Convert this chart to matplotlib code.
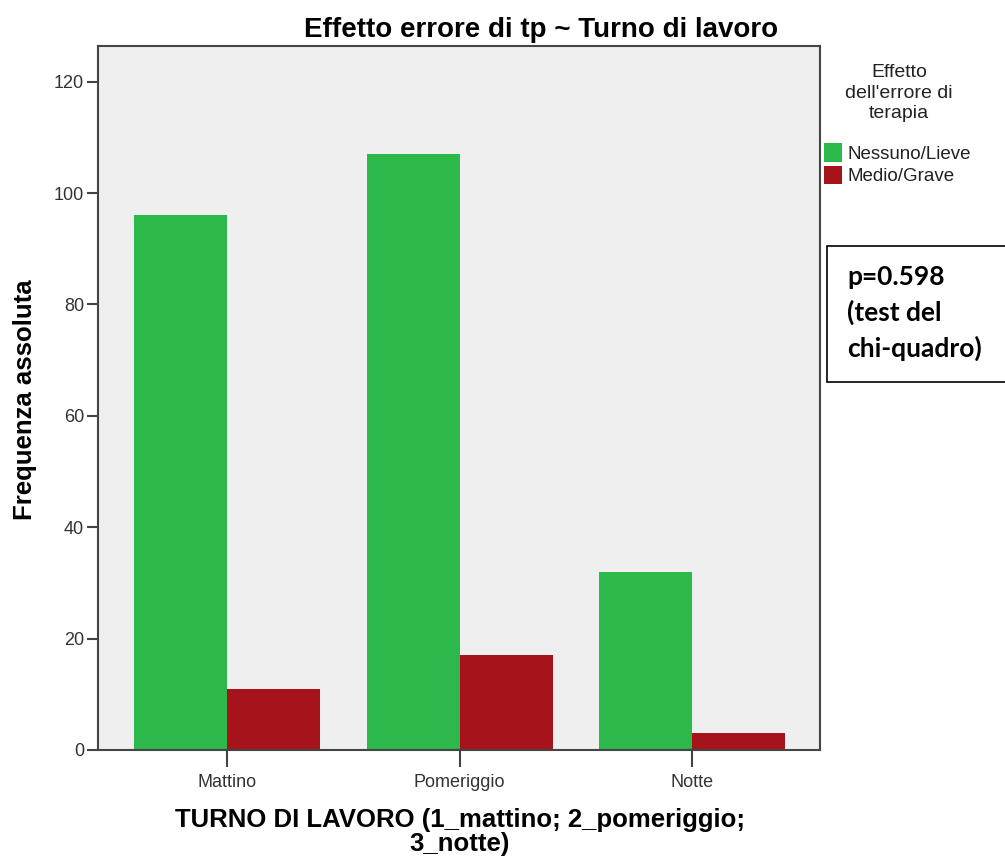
import matplotlib
matplotlib.use('Agg')
import numpy as np
import matplotlib.pyplot as plt
from matplotlib.patches import Patch, Rectangle

plt.rcParams['font.family'] = ['Liberation Sans', 'DejaVu Sans']

# Data
categories = ['Mattino', 'Pomeriggio', 'Notte']
series_names = ['Nessuno/Lieve', 'Medio/Grave']
nessuno_lieve = [96, 107, 32]
medio_grave = [11, 17, 3]
y_ticks = [0, 20, 40, 60, 80, 100, 120]

green = '#2db84b'
red = '#a6131a'

W, H = 1005, 856
fig = plt.figure(figsize=(W / 100, H / 100), dpi=100)
ax = fig.add_axes([98 / W, 1 - 750 / H, (820 - 98) / W, (750 - 46) / H])
ax.set_facecolor('#efefef')

x = np.arange(len(categories))
bw = 0.4
ax.bar(x - bw / 2, nessuno_lieve, width=bw, color=green, label=series_names[0])
ax.bar(x + bw / 2, medio_grave, width=bw, color=red, label=series_names[1])

ax.set_xlim(-0.555, 2.55)
ax.set_ylim(0, 126.4)
ax.set_yticks(y_ticks)
ax.set_xticks(x)
ax.set_xticklabels(categories)

for s in ax.spines.values():
    s.set_color('#444444')
    s.set_linewidth(1.5)
ax.tick_params(axis='y', length=8, width=1.5, color='#444444',
               labelsize=13, labelcolor='#333333', pad=2)
ax.tick_params(axis='x', length=12, width=1.5, color='#444444',
               labelsize=13, labelcolor='#333333', pad=5)

# Titles and labels
fig.text(541 / W, 1 - 30 / H, 'Effetto errore di tp ~ Turno di lavoro',
         weight='bold', fontsize=20, ha='center', va='center')
fig.text(25 / W, 1 - 400 / H, 'Frequenza assoluta', rotation=90,
         weight='bold', fontsize=18.5, ha='center', va='center')
fig.text(460 / W, 1 - 832 / H, 'TURNO DI LAVORO (1_mattino; 2_pomeriggio;\n3_notte)',
         weight='bold', fontsize=18.5, ha='center', va='center',
         multialignment='center', linespacing=1.05)

# Legend
fig.text(899 / W, 1 - 93 / H, "Effetto\ndell'errore di\nterapia",
         fontsize=14, color='#222222', ha='center', va='center', linespacing=1.25)
handles = [Patch(facecolor=green, edgecolor='none'), Patch(facecolor=red, edgecolor='none')]
fig.legend(handles, series_names, loc='upper left',
           bbox_to_anchor=(811 / W, 1 - 130 / H), frameon=False,
           fontsize=13.5, handlelength=0.95, handleheight=1.15,
           handletextpad=0.3, labelspacing=0.15, borderpad=0.2,
           labelcolor='#222222')

# p-value box
fig.add_artist(Rectangle((827 / W, 1 - 382 / H), 200 / W, (382 - 246) / H,
                         transform=fig.transFigure, facecolor='white',
                         edgecolor='black', linewidth=1.2, clip_on=False))
fig.text(847 / W, 1 - 313 / H, 'p=0.598\n(test del\nchi-quadro)',
         family='Lato', weight='bold', fontsize=19, ha='left', va='center',
         linespacing=1.5)

fig.savefig('out.png', dpi=100)
